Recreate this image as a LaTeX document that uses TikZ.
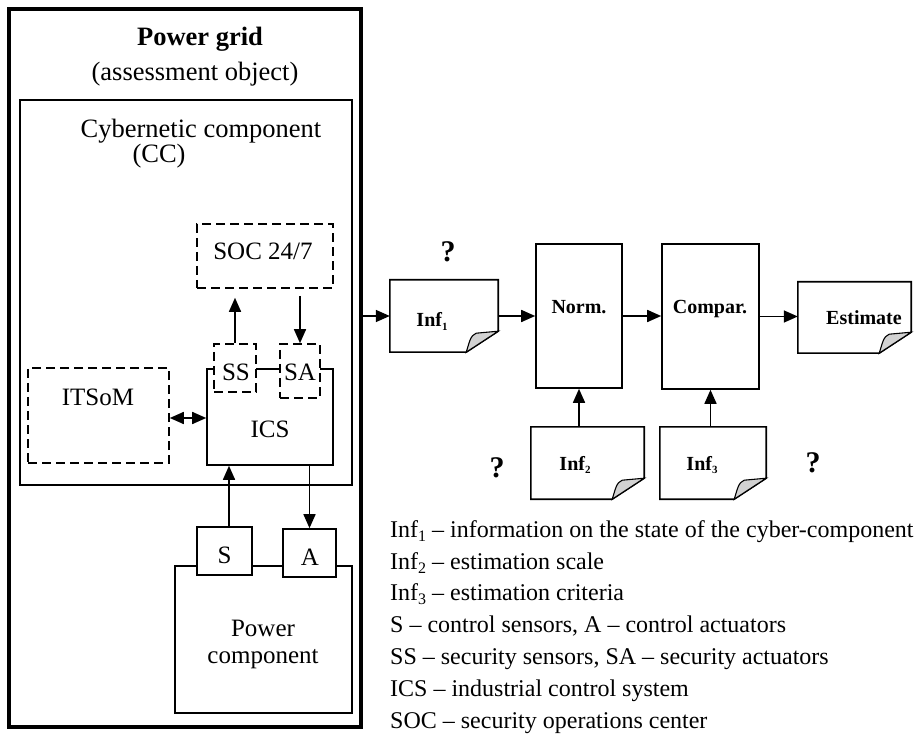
\documentclass[tikz,border=0pt]{standalone}
\usepackage{fontspec}
\setmainfont{Liberation Serif}
\usetikzlibrary{arrows.meta,calc}
\newcommand{\mysub}[3]{{\fontsize{#1}{#1}\selectfont\raisebox{#2}{#3}}}
\newcommand{\docpath}[1]{%
  \draw[line width=1.6pt, line join=miter] (#1.north west) -- (#1.north east) -- ([yshift=21pt]#1.south east) -- ([xshift=-32pt]#1.south east) -- (#1.south west) -- cycle;
  \filldraw[line width=1.1pt, fill=gray!35] ([xshift=-32pt]#1.south east) .. controls ([xshift=-29pt,yshift=9pt]#1.south east) and ([xshift=-28pt,yshift=17pt]#1.south east) .. ([xshift=-22pt,yshift=19pt]#1.south east) -- ([yshift=21pt]#1.south east) -- cycle;}
\begin{document}
\begin{tikzpicture}[x=1pt,y=-1pt,
  blk/.style={draw, line width=1.6pt, inner sep=0pt},
  dsh/.style={blk, dash pattern=on 9pt off 5pt, fill=white},
  docn/.style={inner sep=0pt},
  arr/.style={line width=1.6pt, -{Triangle[length=14pt,width=12pt]}},
  darr/.style={line width=1.6pt, {Triangle[length=14pt,width=12pt]}-{Triangle[length=14pt,width=12pt]}},
  lbl/.style={anchor=base, inner sep=0pt, font=\fontsize{25}{30}\selectfont},
  tlbl/.style={anchor=base, inner sep=0pt, font=\fontsize{26.5}{30}\selectfont},
  blbl/.style={anchor=base, inner sep=0pt, font=\fontsize{20}{24}\selectfont\bfseries},
  qm/.style={anchor=base, inner sep=0pt, font=\fontsize{30}{34}\selectfont\bfseries}]
\useasboundingbox (0,0) rectangle (916,735);

% power grid and cybernetic component
\node[blk, line width=3.2pt, minimum width=352pt, minimum height=718pt] (grid) at (185,368) {};
\node[blk, minimum width=332pt, minimum height=385pt] (cc) at (186,292.5) {};
\node[tlbl, font=\fontsize{26.5}{30}\selectfont\bfseries] (gridt) at (200,46) {Power grid};
\node[tlbl] (gridt2) at (195,81) {(assessment object)};
\node[tlbl] (cct) at (201,138) {Cybernetic component};
\node[tlbl] (cct2) at (159,163) {(CC)};

% SOC, ITSoM, ICS
\node[dsh, minimum width=136pt, minimum height=64pt] (soc) at (265,256) {};
\node[lbl] (soct) at (263,260) {SOC 24/7};
\node[dsh, minimum width=141pt, minimum height=95pt] (itsom) at (98.5,415.5) {};
\node[lbl] (itsomt) at (98,405) {ITSoM};
\node[blk, minimum width=126pt, minimum height=96pt] (ics) at (270,417) {};
\node[lbl] (icst) at (270,437) {ICS};
\node[dsh, minimum width=42pt, minimum height=48pt] (ss) at (235,368) {};
\node[lbl] (sst) at (236,381) {SS};
\node[dsh, minimum width=40pt, minimum height=54pt] (sa) at (300,371) {};
\node[lbl] (sat) at (300,381) {SA};

% power component
\node[blk, minimum width=177pt, minimum height=147pt] (pc) at (263.5,639.5) {};
\node[blk, fill=white, minimum width=55pt, minimum height=48pt] (s) at (224.5,551) {};
\node[lbl] (st) at (224.5,563) {S};
\node[blk, fill=white, minimum width=53pt, minimum height=48pt] (a) at (309.5,553) {};
\node[lbl] (at) at (310,565) {A};
\node[lbl] (pct1) at (263,636) {Power};
\node[lbl] (pct2) at (263,663) {component};

% connectors left
\coordinate (sup) at ([xshift=4.5pt]s.north);
\draw[arr] (sup) -- (sup |- ics.south);
\draw[arr] (ics.south -| a.north) -- (a.north);
\draw[arr, shorten >=9pt] (ss.north) -- (ss.north |- soc.south);
\draw[arr, shorten <=7pt] (soc.south -| sa.north) -- (sa.north);
\coordinate (itr) at ([yshift=-2.5pt]itsom.east);
\draw[darr] (itr) -- (itr -| ics.west);

% right part
\node[docn, minimum width=108pt, minimum height=72pt] (inf1) at (444,316) {};
\docpath{inf1}
\node[docn, minimum width=113pt, minimum height=72pt] (inf2) at (587.5,463) {};
\docpath{inf2}
\node[docn, minimum width=106pt, minimum height=72pt] (inf3) at (713,463) {};
\docpath{inf3}
\node[docn, minimum width=113pt, minimum height=71pt] (est) at (854.5,317.5) {};
\docpath{est}
\node[blk, minimum width=86pt, minimum height=144pt] (norm) at (579,316) {};
\node[blk, minimum width=97pt, minimum height=145pt] (compar) at (710.5,316.5) {};

\node[blbl] (inf1t) at (432,327) {Inf\mysub{11}{-3pt}{1}};
\node[blbl] (inf2t) at (575,470) {Inf\mysub{11}{-3pt}{2}};
\node[blbl] (inf3t) at (702,470) {Inf\mysub{11}{-3pt}{3}};
\node[blbl] (normt) at (579,314) {Norm.};
\node[blbl] (compart) at (710,314) {Compar.};
\node[blbl] (estt) at (864,325) {Estimate};
\node[qm] (q1) at (448,262) {?};
\node[qm] (q2) at (497,477) {?};
\node[qm] (q3) at (813,472) {?};

\draw[arr] (grid.east |- inf1.west) -- (inf1.west);
\draw[arr] (inf1.east) -- (inf1.east -| norm.west);
\draw[arr] (norm.east) -- (norm.east -| compar.west);
\draw[arr] (compar.east) -- (compar.east -| est.west);
\draw[arr] (inf2.north -| norm.south) -- (norm.south);
\draw[arr] (inf3.north -| compar.south) -- (compar.south);

% legend
\node[anchor=base west, align=left, inner sep=0pt, font=\fontsize{24}{31.8}\selectfont] (legend) at (390,728) {%
Inf\mysub{16}{-4pt}{1} -- information on the state of the cyber-component\\
Inf\mysub{16}{-4pt}{2} -- estimation scale\\
Inf\mysub{16}{-4pt}{3} -- estimation criteria\\
S -- control sensors, A -- control actuators\\
SS -- security sensors, SA -- security actuators\\
ICS -- industrial control system\\
SOC -- security operations center};
\end{tikzpicture}
\end{document}
